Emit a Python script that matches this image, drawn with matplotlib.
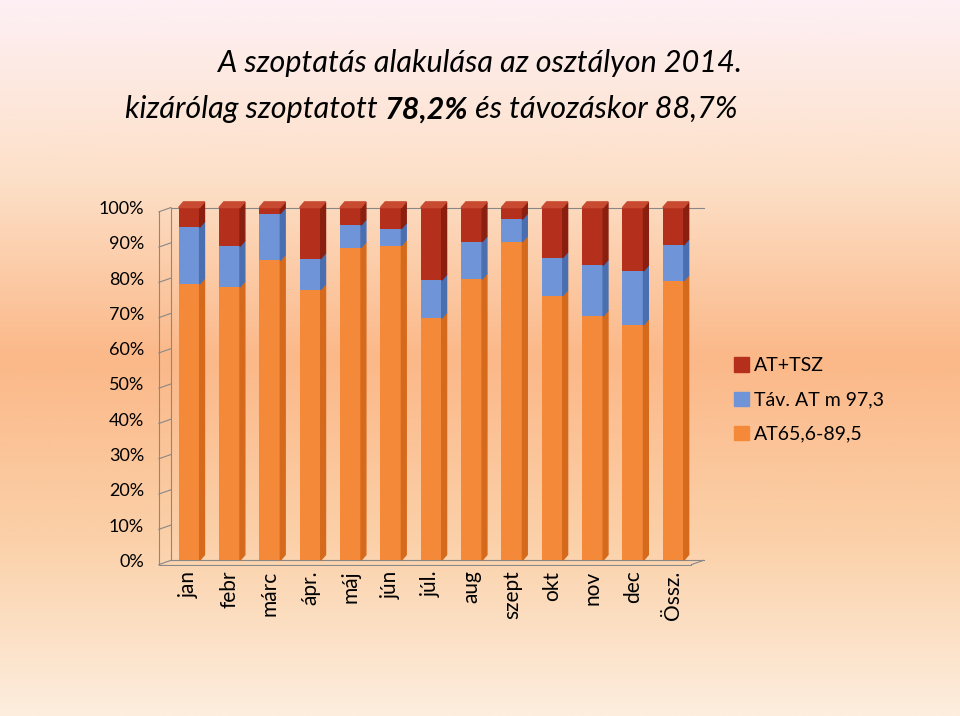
import numpy as np
import matplotlib.pyplot as plt
from matplotlib.colors import LinearSegmentedColormap

months = ['jan', 'febr', 'márc', 'ápr.', 'máj', 'jún', 'júl.', 'aug', 'szept', 'okt', 'nov', 'dec', 'Össz.']
at65 = [78.3, 77.5, 85.0, 76.7, 88.6, 89.2, 68.6, 79.7, 90.3, 75.0, 69.2, 66.7, 79.2]
tav = [16.1, 11.5, 13.3, 8.8, 6.4, 4.8, 10.8, 10.6, 6.4, 10.8, 14.4, 15.3, 10.2]
at_tsz = [100 - a - b for a, b in zip(at65, tav)]

plt.rcParams['font.family'] = 'Lato'
fig = plt.figure(figsize=(9.6, 7.16), dpi=100)

# background gradient
bg = fig.add_axes([0, 0, 1, 1], zorder=-10)
cmap = LinearSegmentedColormap.from_list('bg', ['#fdf0f4', '#fde0c8', '#fbb888', '#fbd0a8', '#fdeede'])
yy = np.linspace(0, 1, 256).reshape(-1, 1)
bg.imshow(yy, aspect='auto', cmap=cmap, extent=[0, 1, 0, 1], origin='upper')
bg.axis('off')

fig.text(0.5, 0.9, 'A szoptatás alakulása az osztályon 2014.', ha='center', fontsize=22, style='italic')
t1 = fig.text(0.13, 0.835, 'kizárólag szoptatott ', fontsize=22, style='italic')
t2 = fig.text(0, 0, '78,2%', fontsize=22, style='italic', weight='bold')
t3 = fig.text(0, 0, ' és távozáskor 88,7%', fontsize=22, style='italic')
r = fig.canvas.get_renderer()
b1 = t1.get_window_extent(r)
t2.set_position(((b1.x1) / fig.bbox.width, 0.835))
b2 = t2.get_window_extent(r)
t3.set_position(((b2.x1) / fig.bbox.width, 0.835))

ax = fig.add_axes([0.155, 0.21, 0.58, 0.51])
ax.patch.set_alpha(0)
x = np.arange(len(months))
w = 0.52
dx, dy = 0.12, 1.6
cols = [('#f5893a', '#d66a1c', '#f9a060'), ('#6f95d8', '#4a6fb0', '#8db0e8'), ('#b5301c', '#8a1f10', '#c84a30')]
for i in range(len(months)):
    bottom = 0
    for vals, (c, cs, ct) in zip([at65, tav, at_tsz], cols):
        v = vals[i]
        ax.bar(x[i], v, w, bottom=bottom, color=c, edgecolor='none', zorder=3)
        ax.fill([x[i] + w/2, x[i] + w/2 + dx, x[i] + w/2 + dx, x[i] + w/2],
                [bottom, bottom + dy, bottom + v + dy, bottom + v], color=cs, zorder=3)
        bottom += v
    ax.fill([x[i] - w/2, x[i] + w/2, x[i] + w/2 + dx, x[i] - w/2 + dx],
            [100, 100, 100 + dy, 100 + dy], color=cols[2][2], zorder=3)

for t in range(0, 101, 10):
    ax.plot([-0.75, -0.45], [t - 1.2, t], color='#888888', lw=0.8, zorder=1)
ax.plot([-0.45, 12.75], [0, 0], color='#888888', lw=0.8)
ax.plot([-0.75, 12.45], [-1.2, -1.2], color='#888888', lw=0.8)
ax.plot([12.45, 12.75], [-1.2, 0], color='#888888', lw=0.8)
ax.plot([-0.75, -0.75], [-1.2, 98.8], color='#888888', lw=0.8)
ax.plot([-0.45, -0.45], [0, 100], color='#888888', lw=0.8)
ax.plot([-0.45, 12.75], [100, 100], color='#888888', lw=0.8, zorder=1)
ax.set_xlim(-1.0, 12.8)
ax.set_ylim(-1.5, 102)
ax.set_yticks(range(0, 101, 10))
ax.set_yticklabels([f'{t}%' for t in range(0, 101, 10)], fontsize=13)
ax.set_xticks(x)
ax.set_xticklabels(months, rotation=90, fontsize=15)
ax.tick_params(length=0)
for s in ax.spines.values():
    s.set_visible(False)

labels = ['AT+TSZ', 'Táv. AT m 97,3', 'AT65,6-89,5']
lc = ['#b5301c', '#6f95d8', '#f5893a']
for k, (lab, c) in enumerate(zip(labels, lc)):
    yk = 0.49 - k * 0.048
    fig.patches.append(plt.Rectangle((0.765, yk - 0.009), 0.015, 0.02, color=c, transform=fig.transFigure))
    fig.text(0.785, yk, lab, fontsize=14, va='center')

fig.savefig('out.png', dpi=100)
